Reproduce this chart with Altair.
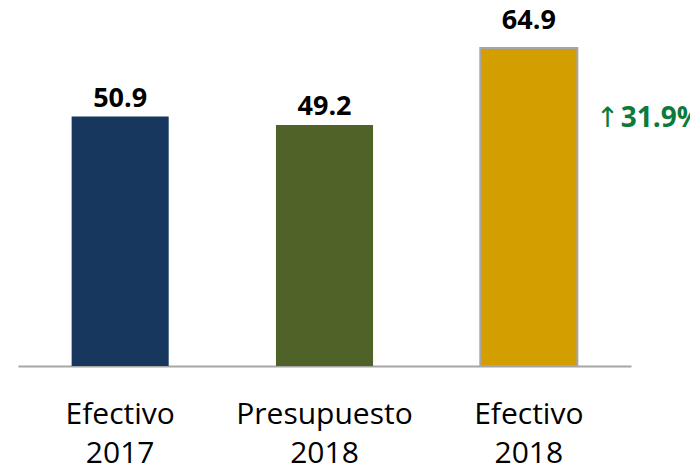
import altair as alt
import pandas as pd

categories = ["Efectivo 2017", "Presupuesto 2018", "Efectivo 2018"]
values = [50.9, 49.2, 64.9]
bar_colors = ["#17375E", "#4F6228", "#D29E00"]

change = (values[2] / values[1] - 1) * 100
change_label = f"{change:.1f}%"

df = pd.DataFrame({"cat": categories, "val": values})
df["label"] = [f"{v:.1f}" for v in values]
ann = pd.DataFrame({"cat": [categories[2]], "val": [values[1]], "label": [change_label]})

xenc = alt.X(
    "cat:N",
    sort=categories,
    scale=alt.Scale(paddingInner=0.525, paddingOuter=0.2625),
    axis=alt.Axis(
        title=None,
        ticks=False,
        labelAngle=0,
        labelFont="Open Sans",
        labelFontSize=30,
        labelColor="#000000",
        labelPadding=33,
        labelLineHeight=39,
        labelExpr="split(datum.label, ' ')",
        domainColor="#A6A6A6",
        domainWidth=2,
        grid=False,
    ),
)
yscale = alt.Scale(domain=[0, 70], nice=False)
xplain = alt.X("cat:N", sort=categories)

bars = alt.Chart(df).mark_bar(strokeWidth=2).encode(
    x=xenc,
    y=alt.Y("val:Q", scale=yscale, axis=None),
    color=alt.Color("cat:N", scale=alt.Scale(domain=categories, range=bar_colors), legend=None),
    stroke=alt.condition(
        alt.datum.cat == categories[2], alt.value("#A6A6A6"), alt.value("transparent")
    ),
)

label_style = dict(font="Open Sans", fontSize=27, fontWeight="bold", color="#000000",
                   baseline="alphabetic")

labels_a = alt.Chart(df).transform_filter(
    alt.datum.cat != categories[2]
).mark_text(dy=-10, **label_style).encode(
    x=xplain, y=alt.Y("val:Q", scale=yscale), text="label:N",
)
labels_b = alt.Chart(df).transform_filter(
    alt.datum.cat == categories[2]
).mark_text(dy=-19, **label_style).encode(
    x=xplain, y=alt.Y("val:Q", scale=yscale), text="label:N",
)

arrow = alt.Chart(ann).mark_text(
    text="\u2191", font="DejaVu Sans", fontSize=28, color="#0B7A3B",
    baseline="alphabetic", align="left", dx=67, dy=2,
).encode(
    x=xplain, y=alt.Y("val:Q", scale=yscale),
)

annot = alt.Chart(ann).mark_text(
    font="Open Sans", fontSize=28, fontWeight="bold", color="#0B7A3B",
    baseline="alphabetic", align="left", dx=92, dy=2,
).encode(
    x=xplain, y=alt.Y("val:Q", scale=yscale), text="label:N",
)

chart = (
    alt.layer(bars, labels_a, labels_b, arrow, annot)
    .properties(
        width=613,
        height=343,
        autosize=alt.AutoSizeParams(type="none"),
        padding={"left": 10, "top": 15, "right": 59, "bottom": 104},
    )
    .configure_view(stroke=None)
)

chart.save("out.html", embed_options={"renderer": "svg", "actions": False})
